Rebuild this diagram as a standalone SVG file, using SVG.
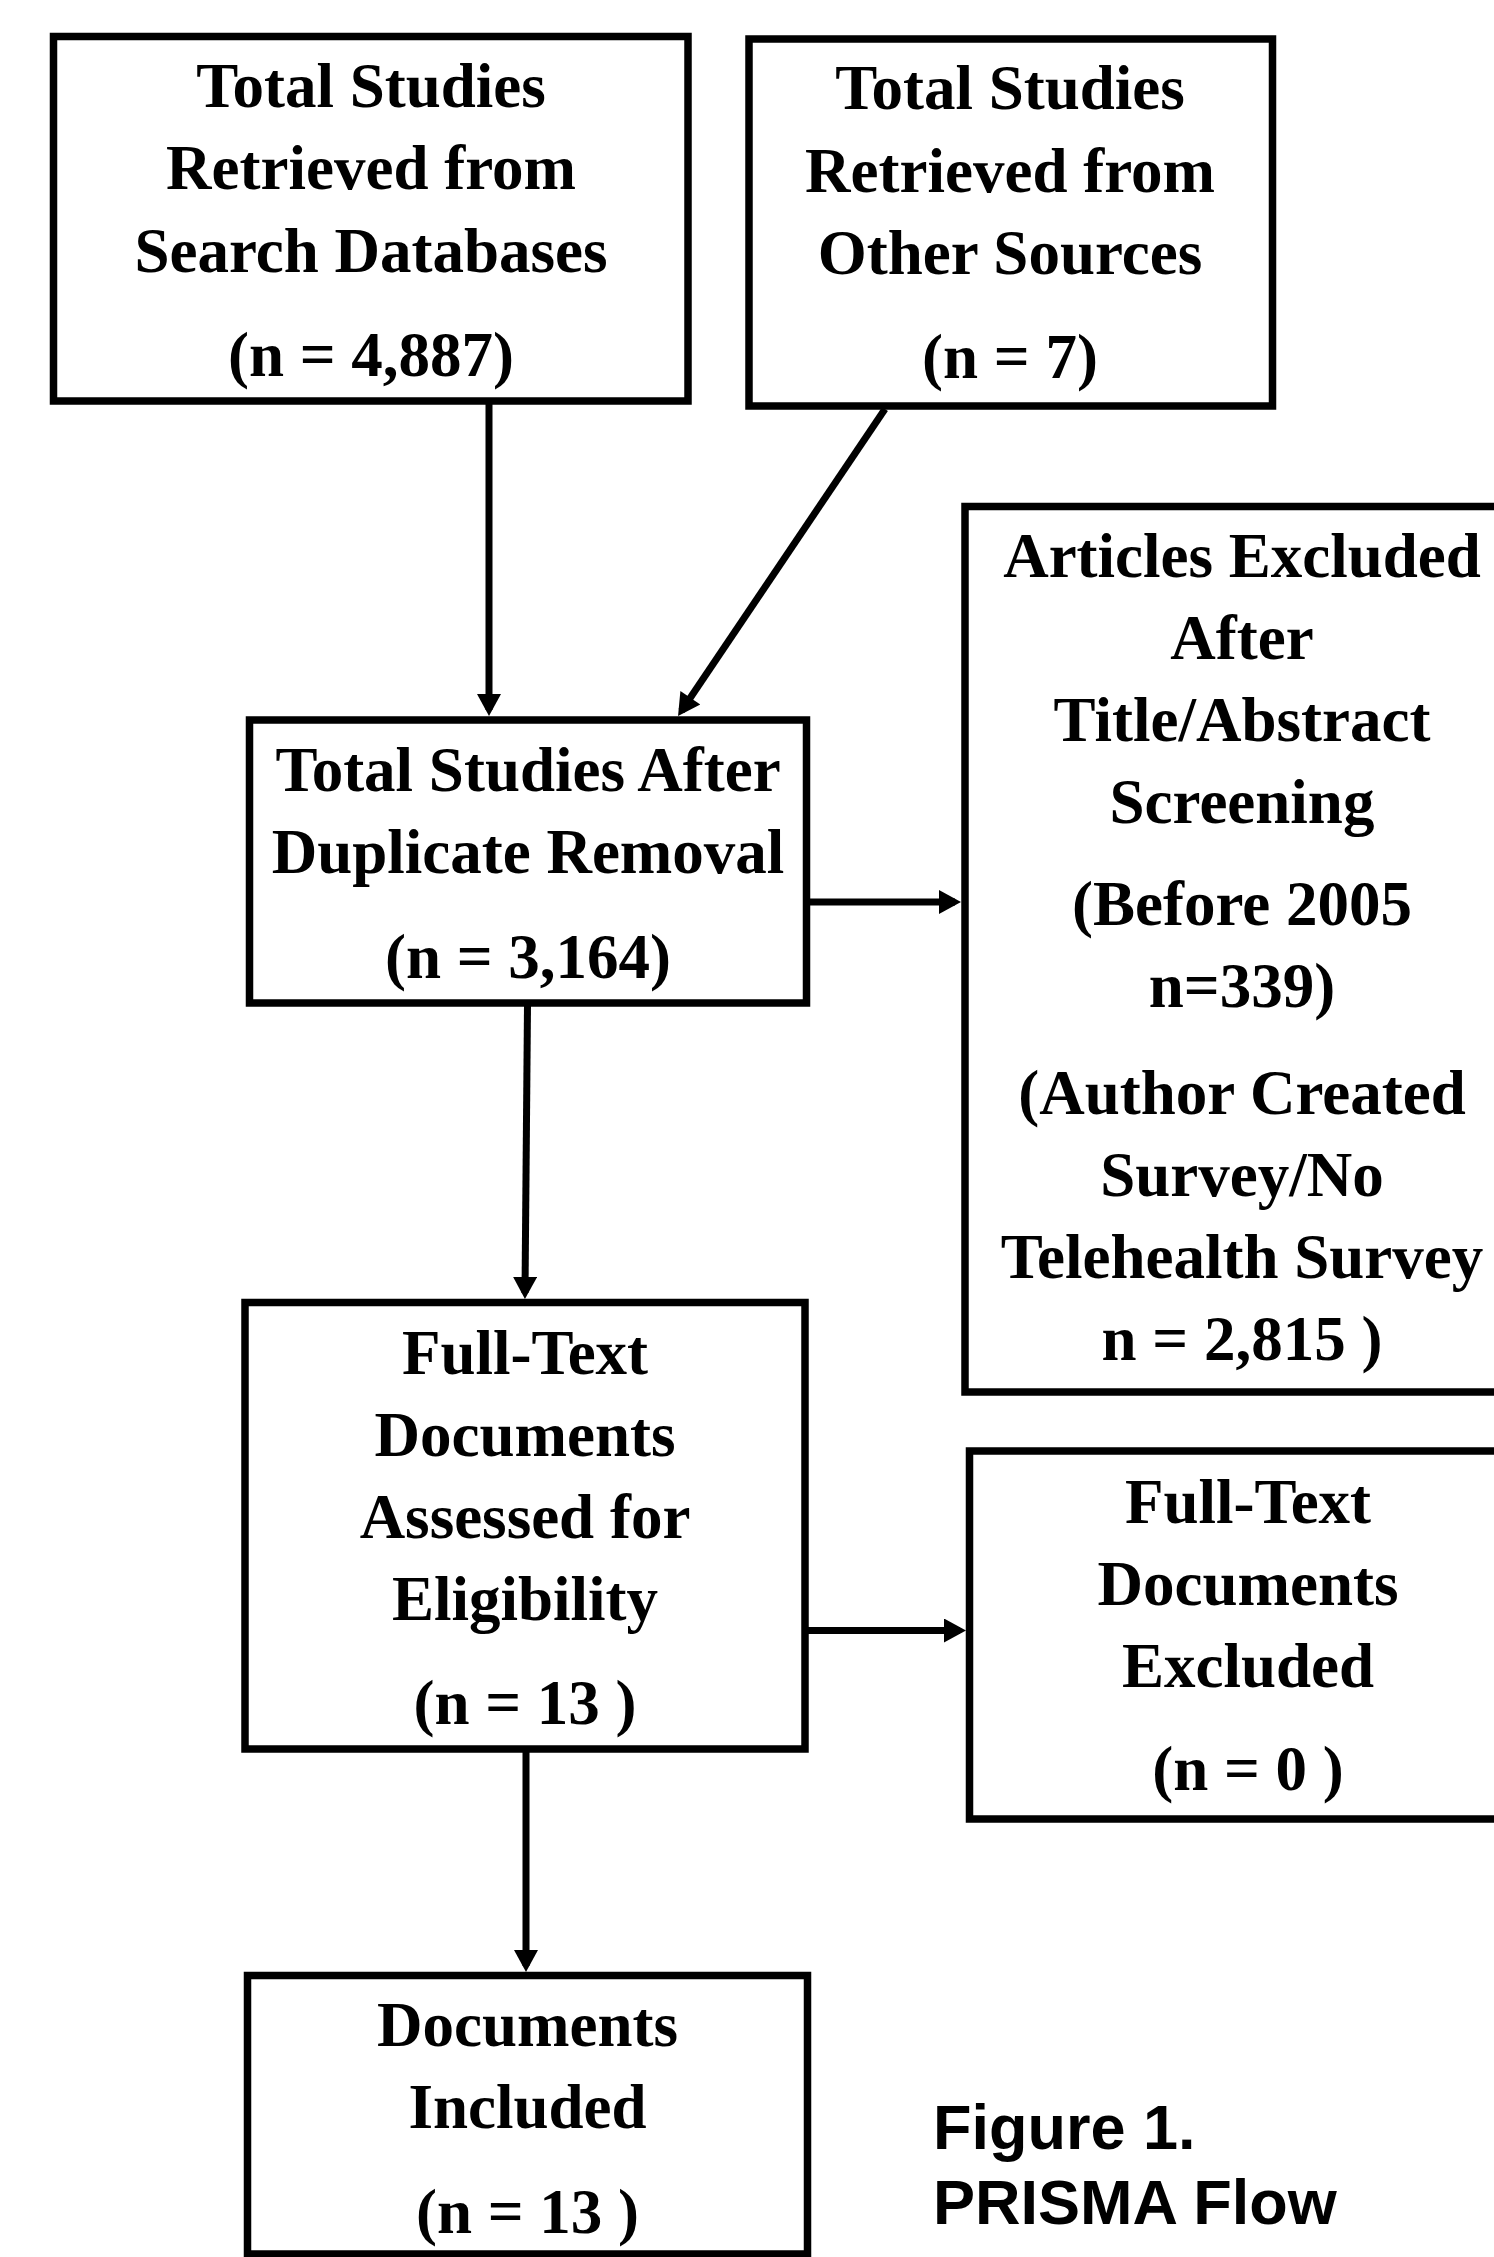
<svg xmlns="http://www.w3.org/2000/svg" width="1494" height="2257" viewBox="0 0 1494 2257">
  <style>
    .box { fill: #ffffff; stroke: #000000; stroke-width: 7.5; }
    .t { font-family: "Liberation Serif", "Times New Roman", serif; font-weight: bold; font-size: 63px; fill: #000000; text-anchor: middle; }
    .cap { font-family: "Liberation Sans", Arial, sans-serif; font-weight: bold; font-size: 63px; fill: #000000; }
    .edge { stroke: #000000; stroke-width: 7; fill: none; marker-end: url(#arrow); }
  </style>
  <defs>
    <marker id="arrow" markerUnits="userSpaceOnUse" markerWidth="24" markerHeight="24" refX="16" refY="12" orient="auto" viewBox="0 0 22 24">
      <path d="M0,0 L22,12 L0,24 Z" fill="#000000"/>
    </marker>
  </defs>
  <rect x="0" y="0" width="1494" height="2257" fill="#ffffff"/>

  <g id="connectors">
    <line class="edge" x1="489" y1="403" x2="489" y2="710"/>
    <line class="edge" x1="885" y1="409" x2="681.4" y2="711"/>
    <line class="edge" x1="808" y1="902" x2="955" y2="902"/>
    <line class="edge" x1="527.5" y1="1005" x2="525" y2="1293"/>
    <line class="edge" x1="806" y1="1630.5" x2="960" y2="1630.5"/>
    <line class="edge" x1="526" y1="1751" x2="526" y2="1966"/>
  </g>

  <g id="node-databases">
    <rect class="box" x="53.5" y="36.5" width="634.5" height="364.5"/>
    <text class="t" x="371" y="107">Total Studies</text>
    <text class="t" x="371" y="189">Retrieved from</text>
    <text class="t" x="371" y="272">Search Databases</text>
    <text class="t" x="371" y="376">(n = 4,887)</text>
  </g>

  <g id="node-other-sources">
    <rect class="box" x="749" y="39" width="523.5" height="367"/>
    <text class="t" x="1010" y="109">Total Studies</text>
    <text class="t" x="1010" y="192">Retrieved from</text>
    <text class="t" x="1010" y="274">Other Sources</text>
    <text class="t" x="1010" y="378">(n = 7)</text>
  </g>

  <g id="node-after-duplicates">
    <rect class="box" x="249.5" y="720" width="557" height="283"/>
    <text class="t" x="528" y="791">Total Studies After</text>
    <text class="t" x="528" y="873">Duplicate Removal</text>
    <text class="t" x="528" y="978">(n = 3,164)</text>
  </g>

  <g id="node-excluded-screening">
    <rect class="box" x="965" y="506.5" width="560" height="885.5"/>
    <text class="t" x="1242" y="577">Articles Excluded</text>
    <text class="t" x="1242" y="659">After</text>
    <text class="t" x="1242" y="741">Title/Abstract</text>
    <text class="t" x="1242" y="823">Screening</text>
    <text class="t" x="1242" y="925">(Before 2005</text>
    <text class="t" x="1242" y="1007">n=339)</text>
    <text class="t" x="1242" y="1114">(Author Created</text>
    <text class="t" x="1242" y="1196">Survey/No</text>
    <text class="t" x="1242" y="1278">Telehealth Survey</text>
    <text class="t" x="1242" y="1360">n = 2,815 )</text>
  </g>

  <g id="node-full-text-assessed">
    <rect class="box" x="245" y="1302.5" width="560" height="446.5"/>
    <text class="t" x="525" y="1374">Full-Text</text>
    <text class="t" x="525" y="1456">Documents</text>
    <text class="t" x="525" y="1538">Assessed for</text>
    <text class="t" x="525" y="1620">Eligibility</text>
    <text class="t" x="525" y="1724">(n = 13 )</text>
  </g>

  <g id="node-full-text-excluded">
    <rect class="box" x="969.5" y="1451" width="557" height="368"/>
    <text class="t" x="1248" y="1523">Full-Text</text>
    <text class="t" x="1248" y="1605">Documents</text>
    <text class="t" x="1248" y="1687">Excluded</text>
    <text class="t" x="1248" y="1790">(n = 0 )</text>
  </g>

  <g id="node-included">
    <rect class="box" x="247.5" y="1975.5" width="560" height="278.5"/>
    <text class="t" x="527.5" y="2046">Documents</text>
    <text class="t" x="527.5" y="2128">Included</text>
    <text class="t" x="527.5" y="2233">(n = 13 )</text>
  </g>

  <g id="caption">
    <text class="cap" x="933" y="2149">Figure 1.</text>
    <text class="cap" x="933" y="2224">PRISMA Flow</text>
  </g>
</svg>
